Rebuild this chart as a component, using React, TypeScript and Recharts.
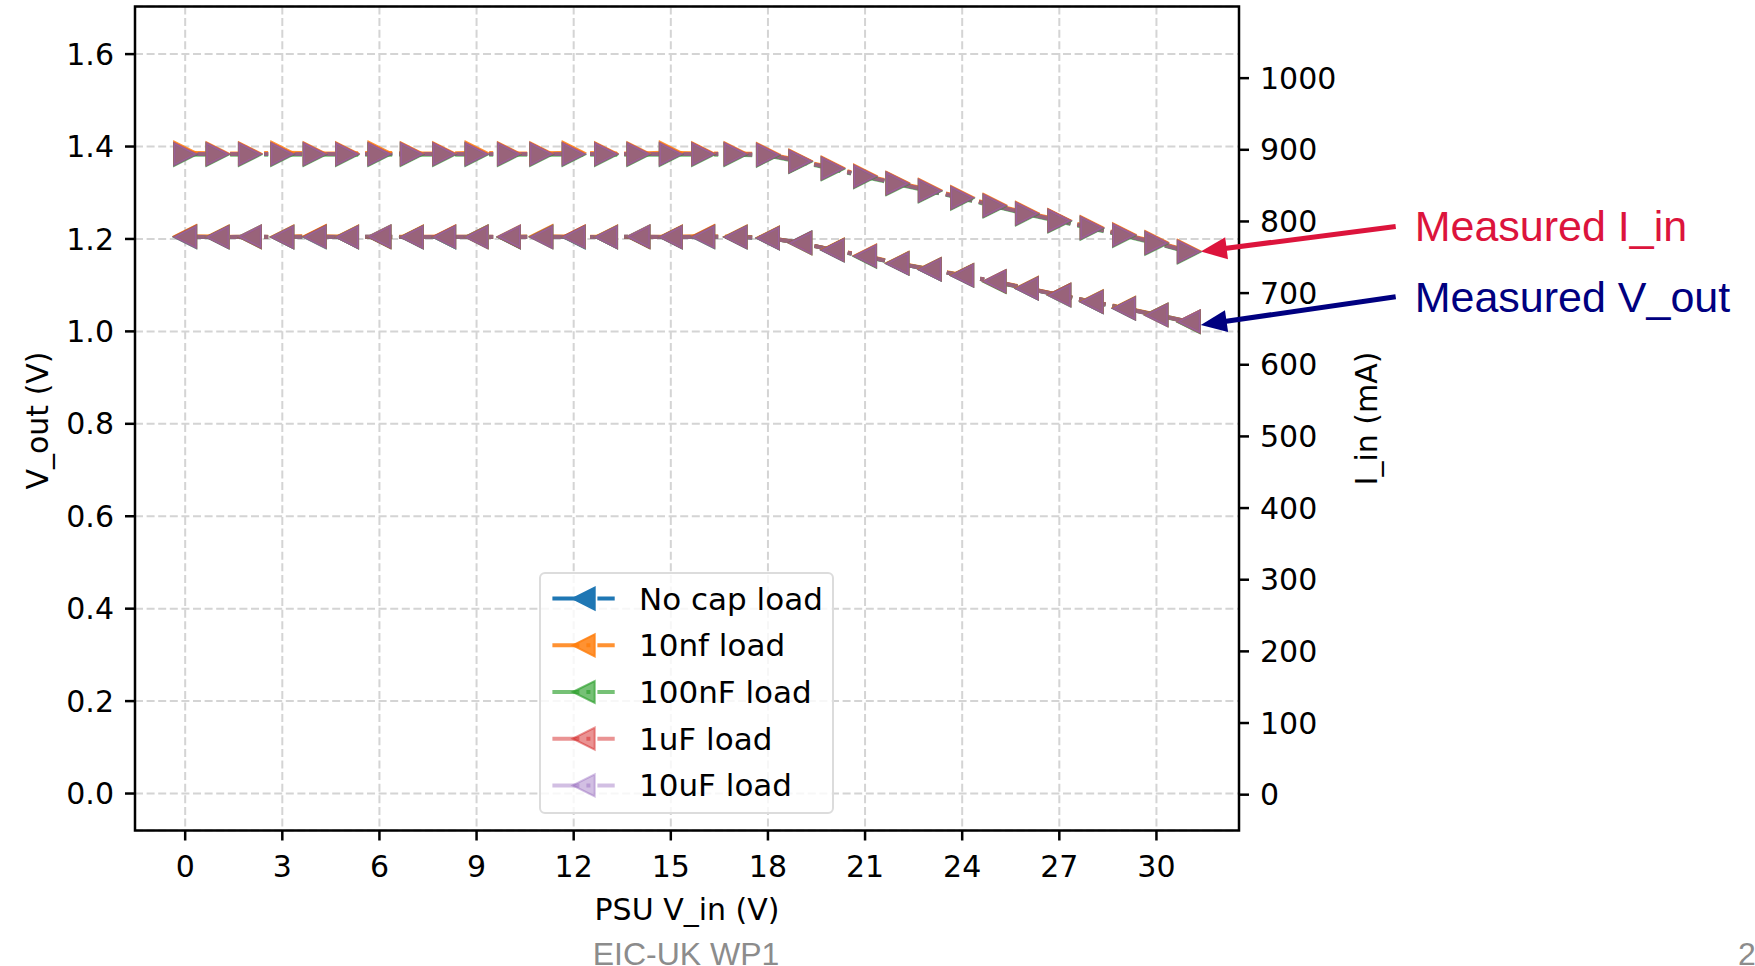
import React from 'react';
import {
  ComposedChart, Line, XAxis, YAxis, CartesianGrid, Legend,
  ReferenceArea, ReferenceLine, Label,
} from 'recharts';

// PSU input voltage (V)
const vin = [0, 1, 2, 3, 4, 5, 6, 7, 8, 9, 10, 11, 12, 13, 14, 15, 16, 17, 18, 19, 20, 21, 22, 23, 24, 25, 26, 27, 28, 29, 30, 31];

const seriesNames = ['No cap load', '10nf load', '100nF load', '1uF load', '10uF load'];

// V_out (V) per load
const voutNoCap = [1.205, 1.204, 1.205, 1.204, 1.205, 1.204, 1.205, 1.204, 1.204, 1.205, 1.204, 1.205, 1.204, 1.204, 1.205, 1.204, 1.205, 1.204, 1.202, 1.192, 1.176, 1.163, 1.147, 1.134, 1.121, 1.108, 1.093, 1.079, 1.064, 1.050, 1.036, 1.021];
const vout10n = [1.206, 1.205, 1.205, 1.205, 1.206, 1.205, 1.205, 1.205, 1.205, 1.205, 1.205, 1.206, 1.205, 1.205, 1.205, 1.205, 1.206, 1.205, 1.203, 1.191, 1.177, 1.164, 1.148, 1.135, 1.122, 1.108, 1.094, 1.079, 1.065, 1.051, 1.036, 1.021];
const vout100n = [1.204, 1.204, 1.204, 1.204, 1.204, 1.204, 1.204, 1.204, 1.204, 1.204, 1.204, 1.204, 1.204, 1.204, 1.204, 1.204, 1.204, 1.204, 1.202, 1.191, 1.176, 1.162, 1.147, 1.134, 1.121, 1.107, 1.093, 1.078, 1.064, 1.050, 1.035, 1.020];
const vout1u = [1.205, 1.204, 1.204, 1.204, 1.205, 1.204, 1.204, 1.204, 1.205, 1.204, 1.204, 1.204, 1.205, 1.204, 1.204, 1.204, 1.205, 1.204, 1.202, 1.192, 1.176, 1.163, 1.147, 1.134, 1.121, 1.108, 1.093, 1.079, 1.064, 1.050, 1.035, 1.021];
const vout10u = [1.204, 1.204, 1.205, 1.204, 1.204, 1.204, 1.205, 1.204, 1.204, 1.204, 1.205, 1.204, 1.204, 1.204, 1.205, 1.204, 1.204, 1.204, 1.202, 1.191, 1.176, 1.163, 1.147, 1.134, 1.121, 1.108, 1.093, 1.078, 1.064, 1.050, 1.035, 1.021];

// I_in (mA) per load
const iinNoCap = [894, 894, 894, 894, 894, 894, 894, 894, 894, 894, 894, 894, 894, 894, 894, 894, 894, 894, 893, 884, 874, 863, 853, 843, 833, 822, 811, 801, 791, 781, 770, 758];
const iin10n = [896, 895, 895, 896, 895, 895, 896, 895, 895, 896, 895, 895, 896, 895, 895, 896, 895, 895, 894, 885, 875, 864, 854, 844, 834, 823, 812, 802, 792, 782, 771, 759];
const iin100n = [893, 893, 893, 893, 893, 893, 893, 893, 893, 893, 893, 893, 893, 893, 893, 893, 893, 893, 892, 883, 873, 862, 852, 842, 832, 821, 810, 800, 790, 780, 769, 757];
const iin1u = [894, 894, 894, 894, 894, 894, 894, 894, 894, 894, 894, 894, 894, 894, 894, 894, 894, 894, 893, 884, 874, 863, 853, 843, 833, 822, 811, 801, 791, 781, 770, 758];
const iin10u = [894, 894, 894, 894, 894, 894, 894, 894, 894, 894, 894, 894, 894, 894, 894, 894, 894, 894, 893, 884, 874, 863, 853, 843, 833, 822, 811, 801, 791, 781, 770, 758];

const xTicks = [0, 3, 6, 9, 12, 15, 18, 21, 24, 27, 30];
const voutTicks = [0, 0.2, 0.4, 0.6, 0.8, 1.0, 1.2, 1.4, 1.6];
const iinTicks = [0, 100, 200, 300, 400, 500, 600, 700, 800, 900, 1000];

const colors = ['#1f77b4', '#ff7f0e', '#2ca02c', '#d62728', '#9467bd'];
const alphas = [1, 0.85, 0.65, 0.5, 0.55];

const voutAll = [voutNoCap, vout10n, vout100n, vout1u, vout10u];
const iinAll = [iinNoCap, iin10n, iin100n, iin1u, iin10u];

const rows = vin.map((x, i) => {
  const r: any = { x };
  voutAll.forEach((s, k) => { r['v' + k] = s[i]; });
  iinAll.forEach((s, k) => { r['i' + k] = s[i]; });
  return r;
});

const X_DOMAIN = [-1.55, 32.55];
const V_DOMAIN = [-0.08, 1.703];
const I_DOMAIN = [-50, 1100];

const DASH = '27 7 4 7';
const MPL = 'DejaVu Sans';
const ARIAL = 'Liberation Sans, Arial, sans-serif';

function triPath(cx: number, cy: number, dir: number, r: number) {
  return dir < 0
    ? `M${cx - r},${cy} L${cx + r},${cy - r} L${cx + r},${cy + r} Z`
    : `M${cx + r},${cy} L${cx - r},${cy - r} L${cx - r},${cy + r} Z`;
}

const makeDot = (color: string, alpha: number, dir: number) => (p: any) => {
  if (p.cx == null || p.cy == null) return <g key={p.key} />;
  return (
    <path
      key={p.key}
      d={triPath(p.cx, p.cy, dir, 11)}
      fill={color}
      fillOpacity={alpha}
      stroke={color}
      strokeOpacity={alpha}
      strokeWidth={2}
    />
  );
};

// arrow + text for the annotations
const makeArrow = (color: string, text: string) => (p: any) => {
  const { x1, y1, x2, y2 } = p;
  const dx = x2 - x1, dy = y2 - y1;
  const len = Math.sqrt(dx * dx + dy * dy) || 1;
  const ux = dx / len, uy = dy / len;
  const hl = 26, hw = 11;
  const bx = x2 - ux * hl, by = y2 - uy * hl;
  return (
    <g>
      <line x1={x1} y1={y1} x2={bx + ux * 2} y2={by + uy * 2} stroke={color} strokeWidth={5} />
      <polygon
        points={`${x2},${y2} ${bx - uy * hw},${by + ux * hw} ${bx + uy * hw},${by - ux * hw}`}
        fill={color}
      />
      <text x={x1 + 19} y={y1 + 15} fill={color} fontSize={43} fontFamily={ARIAL}>
        {text}
      </text>
    </g>
  );
};

function LegendBox() {
  return (
    <div
      style={{
        width: 291, height: 238, border: '2px solid #dcdcdc', borderRadius: 6,
        background: 'rgba(255,255,255,0.8)', boxSizing: 'content-box',
      }}
    >
      <svg width={291} height={238}>
        {seriesNames.map((name, k) => {
          const cy = 24.6 + k * 46.7;
          const a = k === 4 ? 0.42 : alphas[k];
          return (
            <g key={name}>
              <line x1={11.4} y1={cy} x2={73.7} y2={cy} stroke={colors[k]} strokeOpacity={a} strokeWidth={4} strokeDasharray={DASH} />
              <path d={triPath(42.7, cy, -1, 11)} fill={colors[k]} fillOpacity={a} stroke={colors[k]} strokeOpacity={a} strokeWidth={2} />
              <text x={98} y={cy} dominantBaseline="central" fontSize={31} fontFamily={MPL} fill="#000">{name}</text>
            </g>
          );
        })}
      </svg>
    </div>
  );
}

const tickStyle = { fill: '#000', fontSize: 30, fontFamily: MPL };
const tickLineStyle = { stroke: '#000', strokeWidth: 2.5 };

export default function App() {
  return (
    <div style={{ position: 'fixed', left: 0, top: 0, width: 1755, height: 966, background: '#fff', overflow: 'hidden' }}>
      <ComposedChart
        width={1755}
        height={966}
        data={rows}
        margin={{ top: 6.5, right: 316, bottom: 35.5, left: 0 }}
        style={{ fontFamily: MPL }}
      >
        <CartesianGrid xAxisId="x" yAxisId="left" stroke="#d4d4d4" strokeWidth={2} strokeDasharray="8 3.6" />
        <XAxis
          xAxisId="x"
          dataKey="x"
          type="number"
          domain={X_DOMAIN}
          ticks={xTicks}
          interval={0}
          allowDataOverflow
          axisLine={false}
          tickLine={tickLineStyle}
          tickSize={10}
          tickMargin={15}
          tick={tickStyle}
          height={100}
        >
          <Label
            content={(p: any) => {
              const vb = p.viewBox;
              return (
                <text x={vb.x + vb.width / 2} y={vb.y + 89.5} textAnchor="middle" fontSize={30} fontFamily={MPL} fill="#000">
                  PSU V_in (V)
                </text>
              );
            }}
          />
        </XAxis>
        <YAxis
          yAxisId="left"
          type="number"
          domain={V_DOMAIN}
          ticks={voutTicks}
          interval={0}
          allowDataOverflow
          tickFormatter={(v: number) => v.toFixed(1)}
          axisLine={false}
          tickLine={tickLineStyle}
          tickSize={10}
          tickMargin={11}
          tick={tickStyle}
          width={135}
        >
          <Label
            content={(p: any) => {
              const vb = p.viewBox;
              const cx = vb.x + 37, cy = vb.y + vb.height / 2 + 2;
              return (
                <text x={cx} y={cy} transform={`rotate(-90 ${cx} ${cy})`} textAnchor="middle" dominantBaseline="central" fontSize={30} fontFamily={MPL} fill="#000">
                  V_out (V)
                </text>
              );
            }}
          />
        </YAxis>
        <YAxis
          yAxisId="right"
          orientation="right"
          type="number"
          domain={I_DOMAIN}
          ticks={iinTicks}
          interval={0}
          allowDataOverflow
          axisLine={false}
          tickLine={tickLineStyle}
          tickSize={10}
          tickMargin={11}
          tick={tickStyle}
          width={200}
        >
          <Label
            content={(p: any) => {
              const vb = p.viewBox;
              const cx = vb.x + 127, cy = vb.y + vb.height / 2;
              return (
                <text x={cx} y={cy} transform={`rotate(-90 ${cx} ${cy})`} textAnchor="middle" dominantBaseline="central" fontSize={30} fontFamily={MPL} fill="#000">
                  I_in (mA)
                </text>
              );
            }}
          />
        </YAxis>

        {voutAll.map((_, k) => (
          <Line
            key={'v' + k}
            xAxisId="x"
            yAxisId="left"
            dataKey={'v' + k}
            name={seriesNames[k]}
            type="linear"
            stroke={colors[k]}
            strokeOpacity={alphas[k]}
            strokeWidth={4}
            strokeDasharray={DASH}
            dot={makeDot(colors[k], alphas[k], -1)}
            activeDot={false}
            isAnimationActive={false}
          />
        ))}
        {iinAll.map((_, k) => (
          <Line
            key={'i' + k}
            xAxisId="x"
            yAxisId="right"
            dataKey={'i' + k}
            name={seriesNames[k]}
            legendType="none"
            type="linear"
            stroke={colors[k]}
            strokeOpacity={alphas[k]}
            strokeWidth={4}
            strokeDasharray={DASH}
            dot={makeDot(colors[k], alphas[k], 1)}
            activeDot={false}
            isAnimationActive={false}
          />
        ))}

        <ReferenceArea
          xAxisId="x"
          yAxisId="left"
          x1={X_DOMAIN[0]}
          x2={X_DOMAIN[1]}
          y1={V_DOMAIN[0]}
          y2={V_DOMAIN[1]}
          fill="none"
          stroke="#000"
          strokeWidth={2.5}
          ifOverflow="visible"
        />

        <ReferenceLine
          xAxisId="x"
          yAxisId="right"
          segment={[{ x: 37.39, y: 793 }, { x: 31.37, y: 758 }]}
          ifOverflow="visible"
          shape={makeArrow('#dc143c', 'Measured I_in')}
        />
        <ReferenceLine
          xAxisId="x"
          yAxisId="left"
          segment={[{ x: 37.39, y: 1.075 }, { x: 31.37, y: 1.014 }]}
          ifOverflow="visible"
          shape={makeArrow('#000080', 'Measured V_out')}
        />

        <Legend
          layout="vertical"
          align="center"
          verticalAlign="middle"
          content={() => <LegendBox />}
          wrapperStyle={{ position: 'absolute', left: 539, top: 572, width: 295, height: 242 }}
        />
      </ComposedChart>

      <svg width={1755} height={966} style={{ position: 'absolute', left: 0, top: 0, pointerEvents: 'none' }}>
        <text x={686} y={965} textAnchor="middle" fontSize={32} fontFamily={ARIAL} fill="#8c8c8c">EIC-UK WP1</text>
        <text x={1738} y={965} fontSize={32} fontFamily={ARIAL} fill="#8c8c8c">2</text>
      </svg>
    </div>
  );
}
